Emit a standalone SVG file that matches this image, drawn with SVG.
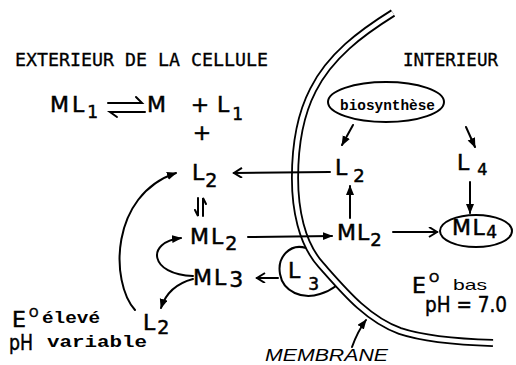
<svg xmlns="http://www.w3.org/2000/svg" width="516" height="365" viewBox="0 0 516 365">
<style>
.c{font-family:"DejaVu Sans",sans-serif;font-size:22px;fill:#000;stroke:#000;stroke-width:0.5}
.m{font-family:"DejaVu Sans Mono",monospace;fill:#000;stroke:#000;stroke-width:0.3}
.t{font-family:"Liberation Mono",monospace;font-weight:bold;fill:#000}
.ln{fill:none;stroke:#000;stroke-width:2;stroke-linecap:round}
.fa{marker-end:url(#fa)}
.oa{marker-end:url(#oa)}
</style>
<defs>
<marker id="fa" markerUnits="userSpaceOnUse" markerWidth="11" markerHeight="9" refX="9" refY="4" orient="auto"><path d="M0,0 L10,4 L0,8 z" fill="#000"/></marker>
<marker id="oa" markerUnits="userSpaceOnUse" markerWidth="12" markerHeight="12" refX="9" refY="5" orient="auto"><path d="M1,0 L9,5 L1,10" fill="none" stroke="#000" stroke-width="2"/></marker>
</defs>
<rect width="516" height="365" fill="#fff"/>

<g id="membrane">
<path d="M393,13 C361,33 330,56 313,90 C299,117 295,148 295,178 C295,208 301,243 321,265 C344,291 367,319 400,331 C424,339 460,342 493,343" fill="none" stroke="#000" stroke-width="8"/>
<path d="M393,13 C361,33 330,56 313,90 C299,117 295,148 295,178 C295,208 301,243 321,265 C344,291 367,319 400,331 C424,339 460,342 493,343" fill="none" stroke="#fff" stroke-width="4.4"/>
</g>

<g id="titles">
<text class="m" x="15" y="66" font-size="18" textLength="253" lengthAdjust="spacingAndGlyphs">EXTERIEUR DE LA CELLULE</text>
<text class="m" x="403" y="66" font-size="17" textLength="95" lengthAdjust="spacingAndGlyphs">INTERIEUR</text>
</g>

<g id="ml1"><text class="c" x="50" y="112" font-size="23" letter-spacing="3">ML<tspan dy="6" font-size="17" letter-spacing="0">1</tspan></text></g>
<g id="m"><text class="c" x="147" y="112" font-size="23">M</text></g>
<g id="plus1"><text class="c" x="200" y="112" font-size="19" text-anchor="middle">+</text></g>
<g id="l1"><text class="c" x="217" y="112" font-size="23">L<tspan dx="3" dy="8" font-size="17">1</tspan></text></g>
<g id="plus2"><text class="c" x="202" y="140" font-size="19" text-anchor="middle">+</text></g>

<g id="l2-out"><text class="c" x="192" y="180" font-size="21">L<tspan dx="1" dy="7" font-size="19">2</tspan></text></g>
<g id="ml2-out"><text class="c" x="190" y="244" letter-spacing="2">ML<tspan dy="6" font-size="19" letter-spacing="0">2</tspan></text></g>
<g id="ml3"><text class="c" x="193" y="285" letter-spacing="2">ML<tspan dx="1" dy="2" letter-spacing="0">3</tspan></text></g>
<g id="l2-low"><text class="c" x="143" y="330">L<tspan dx="2" dy="4" font-size="19">2</tspan></text></g>

<g id="l2-in"><text class="c" x="335" y="175" font-size="19">L<tspan dx="6" dy="7" font-size="18">2</tspan></text></g>
<g id="ml2-in"><text class="c" x="337" y="240" font-size="20" letter-spacing="1">ML<tspan dy="6" font-size="18" letter-spacing="0">2</tspan></text></g>
<g id="l4"><text class="c" x="457" y="170" font-size="18">L<tspan dx="8" dy="5" font-size="16">4</tspan></text></g>

<g id="biosynthese">
<ellipse cx="386" cy="102" rx="58" ry="20" fill="none" stroke="#000" stroke-width="2"/>
<text class="t" x="340" y="110" font-size="15" textLength="95" lengthAdjust="spacingAndGlyphs">biosynthèse</text>
</g>
<g id="ml4">
<ellipse cx="476" cy="231" rx="36" ry="16" fill="none" stroke="#000" stroke-width="2"/>
<text class="c" x="452" y="235" font-size="18" letter-spacing="1.5">ML<tspan dy="3" font-size="17" letter-spacing="0">4</tspan></text>
</g>
<g id="l3">
<path d="M306,248 C290,243 277,257 280,274 C283,292 303,300 320,294 C327,292 332,289 336,286" fill="none" stroke="#000" stroke-width="2"/>
<text class="c" x="288" y="278" font-size="18">L<tspan dx="8" dy="12" font-size="17">3</tspan></text>
</g>

<g id="cond-ext">
<text class="c" x="12" y="327" font-size="21">E<tspan dx="3" dy="-10" font-size="12">O</tspan></text>
<text class="t" x="42" y="323" font-size="16" textLength="58" lengthAdjust="spacingAndGlyphs">élevé</text>
<text class="c" x="9" y="350" font-size="19" textLength="24" lengthAdjust="spacingAndGlyphs">pH</text>
<text class="t" x="47" y="347" font-size="17" textLength="100" lengthAdjust="spacingAndGlyphs">variable</text>
</g>
<g id="cond-int">
<text class="c" x="412" y="293" font-size="21">E<tspan dx="3" dy="-11" font-size="13">O</tspan></text>
<text x="453" y="290" font-family="Liberation Sans,sans-serif" font-size="15" textLength="34" lengthAdjust="spacingAndGlyphs">bas</text>
<text class="c" x="425" y="312" font-size="18" textLength="82" lengthAdjust="spacingAndGlyphs">pH = 7.0</text>
</g>
<g id="membrane-label">
<text x="265" y="361" font-family="Liberation Sans,sans-serif" font-style="italic" font-size="17" textLength="123" lengthAdjust="spacingAndGlyphs">MEMBRANE</text>
</g>

<g id="connectors">
<path class="ln" d="M108,103 L142,103 L136,97"/>
<path class="ln" d="M145,112 L110,112 L117,117"/>
<path class="ln" d="M198,198 L198,216 L195,210"/>
<path class="ln" d="M203,216 L203,198 L206,204"/>
<path class="ln oa" d="M330,172 L234,173"/>
<path class="ln fa" d="M248,237 L332,236"/>
<path class="ln fa" d="M350,218 L350,186"/>
<path class="ln oa" d="M393,232 L437,232"/>
<path class="ln fa" d="M470,182 L470,213"/>
<path class="ln fa" d="M353,125 L342,145"/>
<path class="ln fa" d="M466,127 L475,147"/>
<path class="ln oa" d="M278,278 L257,278"/>
<path class="ln fa" d="M193,276 C150,275 145,242 181,238"/>
<path class="ln fa" d="M193,279 C178,283 166,292 161,308"/>
<path class="ln fa" d="M135,310 C110,282 110,195 176,173"/>
<path class="ln fa" d="M352,347 C356,336 360,328 366,320"/>
</g>
</svg>
